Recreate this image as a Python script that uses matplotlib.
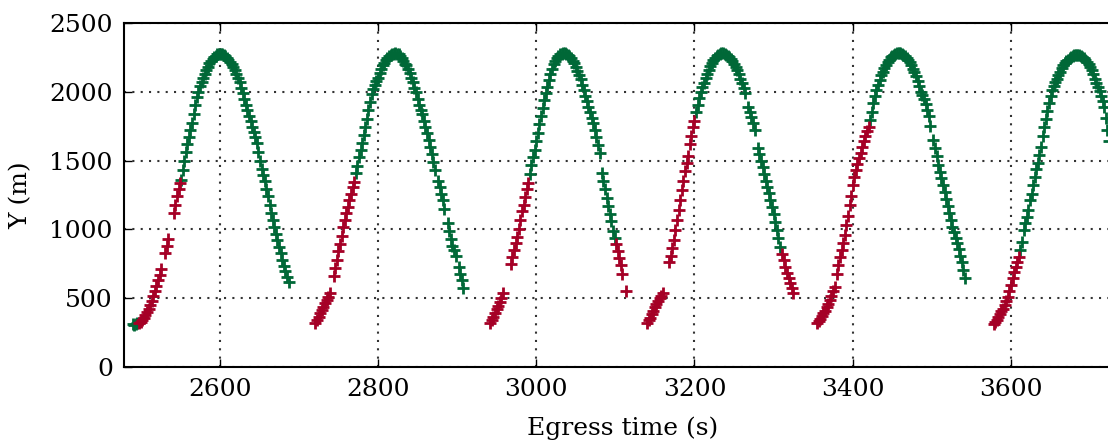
"""Egress time vs Y position scatter, red/green by state."""

import matplotlib
matplotlib.use("Agg")
import matplotlib.pyplot as plt

GREEN = "#006837"
RED = "#a50026"

# --- data (time in s, Y in m) ---
green_t = (
    [2490, 2492, 2494, 2496]
    + [2551, 2553, 2555, 2557, 2559, 2561, 2563, 2565, 2567, 2569, 2571, 2573, 2575, 2577, 2579, 2581,
       2583, 2585, 2587, 2589, 2591, 2593, 2595, 2597, 2599, 2601]
    + [2603, 2605, 2607, 2609, 2611, 2613, 2615, 2617, 2619, 2621, 2623, 2625, 2627, 2629, 2631, 2633,
       2635, 2637, 2639, 2641, 2643, 2645, 2647, 2649, 2651, 2653, 2655, 2657, 2659, 2661, 2663, 2665,
       2667, 2669, 2671, 2673, 2675, 2677, 2679, 2681, 2683, 2685, 2687]
    + [2772, 2774, 2776, 2778, 2780, 2782, 2784, 2786, 2788, 2790, 2792, 2794, 2796, 2798, 2800, 2802,
       2804, 2806, 2808, 2810, 2812, 2814, 2816, 2818, 2820, 2822]
    + [2824, 2826, 2828, 2830, 2832, 2834, 2836, 2838, 2840, 2842, 2844, 2846, 2848, 2850, 2852, 2854,
       2856, 2858, 2860, 2862, 2864, 2866, 2868, 2870, 2872, 2876, 2878, 2880, 2882, 2884, 2888,
       2890, 2892, 2894, 2896, 2898, 2902, 2904, 2906, 2908]
    + [2992, 2994, 2996, 2998, 3000, 3002, 3004, 3006, 3008, 3010, 3012, 3014, 3016, 3018, 3020, 3022,
       3024, 3026, 3028, 3030, 3032, 3034, 3036]
    + [3038, 3040, 3042, 3044, 3046, 3048, 3050, 3052, 3054, 3056, 3058, 3060, 3062, 3064, 3066, 3068,
       3070, 3072, 3074, 3076, 3078, 3080, 3083, 3085, 3087, 3089, 3091, 3093, 3095, 3097, 3099]
    + [3202, 3204, 3206, 3208, 3210, 3212, 3214, 3216, 3218, 3220, 3222, 3224, 3226, 3228, 3230, 3232,
       3234, 3236, 3238]
    + [3240, 3242, 3244, 3246, 3248, 3250, 3252, 3254, 3256, 3258, 3260, 3262, 3264, 3268, 3270, 3272,
       3274, 3276, 3280, 3282, 3284, 3286, 3288, 3290, 3292, 3294, 3296, 3298, 3300, 3302, 3304, 3306, 3308]
    + [3422, 3424, 3426, 3428, 3430, 3432, 3434, 3436, 3438, 3440, 3442, 3444, 3446, 3448, 3450, 3452,
       3454, 3456, 3458, 3460]
    + [3462, 3464, 3466, 3468, 3470, 3472, 3474, 3476, 3478, 3480, 3482, 3484, 3486, 3488, 3490, 3492,
       3494, 3496, 3498, 3502, 3504, 3506, 3508, 3510, 3512, 3514, 3516, 3518, 3520, 3522, 3524, 3526,
       3528, 3530, 3532, 3534, 3536, 3538, 3540, 3542]
    + [3612, 3614, 3616, 3618, 3620, 3622, 3624, 3626, 3628, 3630, 3632, 3634, 3636, 3638, 3640, 3642,
       3644, 3646, 3648, 3650, 3652, 3654, 3656, 3658, 3660, 3662, 3664, 3666, 3668, 3670, 3672, 3674,
       3676, 3678, 3680, 3682, 3684, 3686, 3688, 3690, 3692, 3694, 3696, 3698, 3700, 3702, 3704, 3706,
       3708, 3710, 3712, 3714, 3716, 3718, 3720, 3722, 3724]
)
green_y = (
    [310, 305, 312, 318]
    + [1360, 1430, 1500, 1560, 1620, 1670, 1720, 1770, 1840, 1900, 1960, 2000, 2040, 2070, 2100, 2130,
       2160, 2180, 2205, 2225, 2240, 2252, 2262, 2270, 2274, 2276]
    + [2272, 2266, 2256, 2245, 2232, 2218, 2200, 2182, 2160, 2130, 2100, 2070, 2030, 1990, 1950, 1905,
       1865, 1825, 1785, 1745, 1705, 1670, 1625, 1565, 1500, 1440, 1395, 1350, 1290, 1240, 1180, 1120,
       1070, 1020, 970, 920, 875, 830, 780, 735, 695, 655, 620]
    + [1410, 1460, 1525, 1575, 1625, 1685, 1745, 1805, 1865, 1925, 1985, 2020, 2050, 2080, 2100, 2135,
       2165, 2190, 2210, 2230, 2245, 2256, 2265, 2272, 2276, 2278]
    + [2276, 2270, 2258, 2242, 2225, 2200, 2190, 2165, 2135, 2100, 2070, 2030, 2000, 1950, 1900, 1870,
       1840, 1790, 1745, 1700, 1650, 1600, 1550, 1490, 1430, 1355, 1310, 1260, 1210, 1145, 1045,
       990, 930, 880, 850, 810, 730, 680, 635, 575]
    + [1405, 1465, 1525, 1580, 1640, 1700, 1765, 1825, 1885, 1940, 1990, 2035, 2085, 2130, 2165, 2200,
       2225, 2245, 2260, 2270, 2276, 2278, 2278]
    + [2275, 2268, 2258, 2243, 2225, 2205, 2180, 2150, 2120, 2090, 2050, 2010, 1970, 1930, 1890, 1850,
       1810, 1770, 1720, 1670, 1610, 1555, 1410, 1350, 1290, 1230, 1170, 1110, 1060, 990, 940]
    + [1850, 1905, 1955, 2000, 2035, 2065, 2100, 2130, 2160, 2185, 2210, 2228, 2245, 2258, 2268, 2274,
       2277, 2278, 2275]
    + [2268, 2258, 2248, 2235, 2220, 2200, 2180, 2155, 2125, 2095, 2060, 2025, 1990, 1890, 1850, 1815,
       1770, 1720, 1590, 1545, 1500, 1450, 1400, 1355, 1310, 1265, 1215, 1165, 1115, 1055, 995, 935, 875]
    + [1795, 1855, 1915, 1965, 2010, 2050, 2085, 2120, 2145, 2170, 2195, 2215, 2232, 2248, 2260, 2268,
       2273, 2277, 2278, 2277]
    + [2274, 2268, 2258, 2245, 2230, 2212, 2190, 2165, 2145, 2115, 2080, 2040, 2000, 1975, 1950, 1910,
       1870, 1820, 1750, 1650, 1590, 1530, 1470, 1420, 1375, 1325, 1275, 1220, 1170, 1120, 1070, 1020,
       980, 940, 900, 855, 805, 760, 705, 650]
    + [850, 910, 995, 1045, 1090, 1140, 1210, 1260, 1320, 1380, 1440, 1480, 1540, 1600, 1680, 1740,
       1800, 1860, 1920, 1970, 2010, 2040, 2070, 2095, 2120, 2145, 2170, 2190, 2205, 2220, 2233, 2243,
       2250, 2258, 2263, 2266, 2267, 2266, 2262, 2255, 2245, 2232, 2215, 2200, 2180, 2155, 2125, 2095,
       2065, 2035, 2005, 1970, 1930, 1890, 1810, 1720, 1640]
)

red_t = (
    [2498, 2500, 2502, 2504, 2506, 2508, 2510, 2512, 2514, 2516, 2518, 2520, 2522, 2524, 2526,
     2531, 2533, 2535, 2542, 2544, 2546, 2548, 2550]
    + [2721, 2723, 2725, 2727, 2729, 2731, 2733, 2735, 2737, 2739, 2744, 2746, 2748, 2750, 2752, 2754,
       2756, 2758, 2760, 2762, 2764, 2766, 2768, 2770]
    + [2942, 2944, 2946, 2948, 2950, 2952, 2954, 2956, 2958, 2968, 2970, 2972, 2974, 2976, 2978, 2980,
       2982, 2984, 2986, 2988, 2990]
    + [3101, 3103, 3105, 3107, 3109, 3113]
    + [3140, 3142, 3144, 3146, 3148, 3150, 3152, 3154, 3156, 3158, 3160, 3168, 3170, 3172, 3174, 3176,
       3178, 3180, 3182, 3184, 3186, 3188, 3190, 3192, 3194, 3196, 3198, 3200]
    + [3311, 3313, 3315, 3317, 3319, 3321, 3323, 3325]
    + [3355, 3357, 3359, 3361, 3363, 3365, 3367, 3369, 3371, 3373, 3375, 3377, 3380, 3382, 3384, 3386,
       3388, 3390, 3392, 3394, 3396, 3398, 3400, 3402, 3404, 3406, 3408, 3410, 3412, 3414, 3416, 3418, 3420]
    + [3578, 3580, 3582, 3584, 3586, 3588, 3590, 3592, 3594, 3596, 3598, 3600, 3602, 3604, 3606, 3608, 3610]
)
red_y = (
    [320, 330, 345, 360, 378, 400, 425, 450, 480, 515, 550, 590, 630, 670, 710,
     828, 880, 930, 1120, 1180, 1240, 1290, 1340]
    + [320, 340, 365, 390, 415, 440, 465, 490, 510, 535, 660, 720, 775, 840, 895, 955,
       1015, 1070, 1120, 1165, 1215, 1260, 1310, 1345]
    + [320, 340, 365, 390, 420, 445, 475, 505, 535, 750, 800, 850, 900, 945, 1000, 1065,
       1135, 1180, 1235, 1290, 1340]
    + [895, 840, 790, 740, 680, 555]
    + [320, 340, 360, 385, 410, 435, 460, 480, 500, 520, 540, 760, 810, 865, 925, 995,
       1065, 1140, 1210, 1285, 1355, 1425, 1480, 1530, 1620, 1680, 1740, 1790]
    + [820, 780, 730, 685, 645, 610, 575, 540]
    + [320, 335, 350, 370, 390, 410, 435, 460, 490, 520, 550, 580, 680, 740, 800, 850,
       900, 960, 1030, 1100, 1175, 1245, 1320, 1380, 1430, 1475, 1515, 1555, 1600, 1645, 1680, 1715, 1745]
    + [310, 325, 345, 365, 385, 405, 425, 450, 480, 510, 550, 600, 650, 690, 730, 765, 800]
)

x_ticks = [2600, 2800, 3000, 3200, 3400, 3600]
y_ticks = [0, 500, 1000, 1500, 2000, 2500]

plt.rcParams["font.family"] = "DejaVu Serif"
plt.rcParams["mathtext.fontset"] = "dejavuserif"

fig = plt.figure(figsize=(11.08, 4.43), dpi=100)
ax = fig.add_axes([0.1119, 0.1711, 0.9005, 0.7775])

ax.scatter(green_t, green_y, marker="+", s=64, linewidths=2.0, color=GREEN, zorder=3)
ax.scatter(red_t, red_y, marker="+", s=64, linewidths=2.0, color=RED, zorder=3)

ax.set_xlim(2479, 3740)
ax.set_ylim(0, 2500)
ax.set_xticks(x_ticks)
ax.set_yticks(y_ticks)
ax.tick_params(direction="in", top=True, right=True, labelsize=18, length=6, width=1, pad=8)
ax.grid(True, linestyle=(0, (1, 3)), color="#333333", linewidth=1.5)
ax.set_axisbelow(True)
for sp in ax.spines.values():
    sp.set_linewidth(1.5)

ax.set_xlabel("Egress time (s)", fontsize=18, labelpad=11)
ax.set_ylabel("Y (m)", fontsize=18, labelpad=12)

fig.savefig("out.png", dpi=100, facecolor="white")
